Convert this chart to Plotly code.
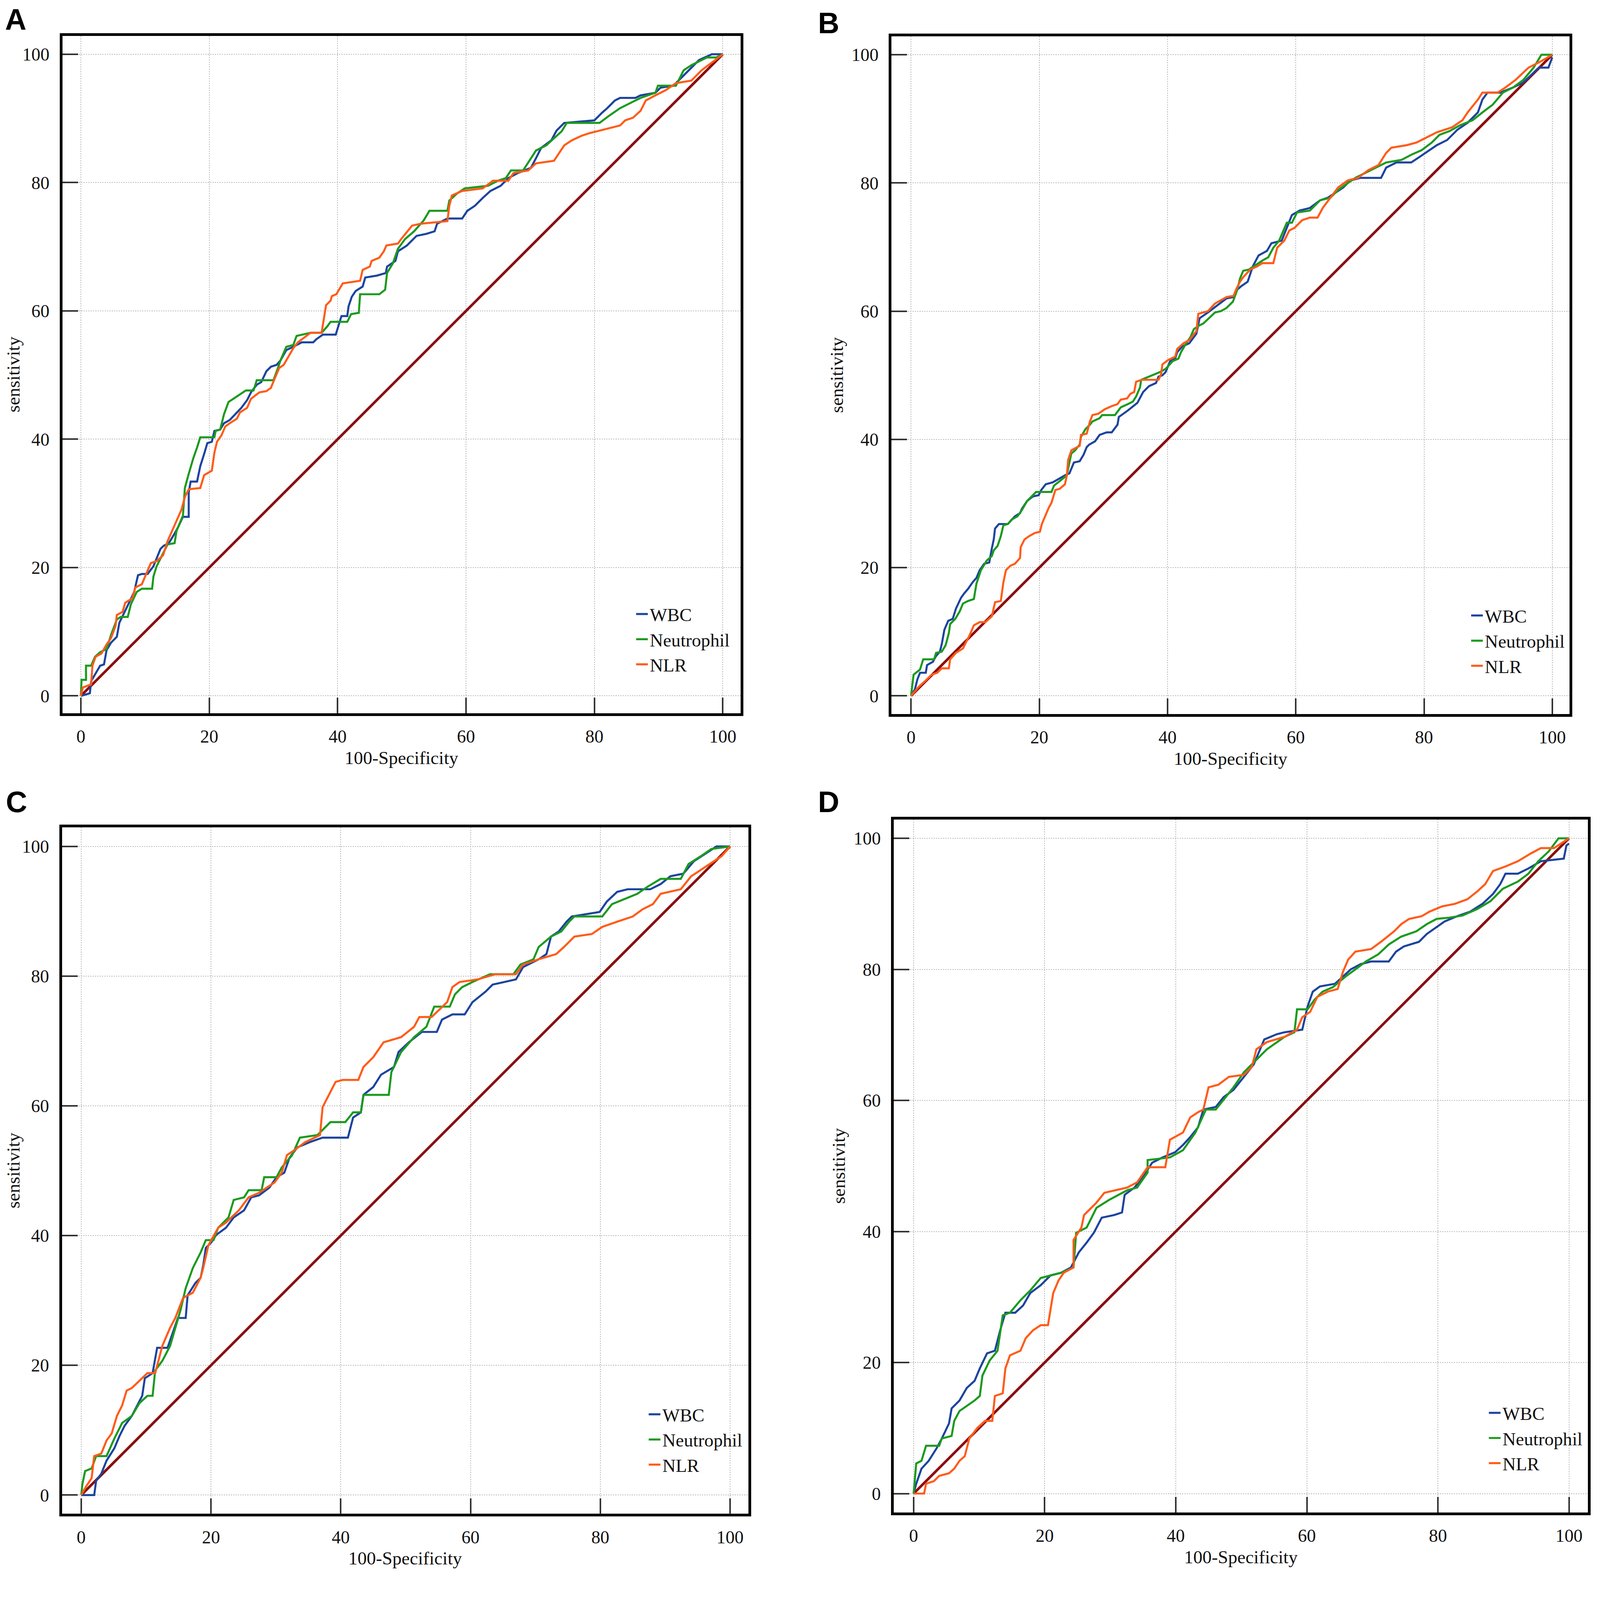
import plotly.graph_objects as go

# ROC curves: (100-specificity, sensitivity) vertices per series
a_wbc = [(0,0),(1.4,0.4),(1.6,2.3),(2.3,3.5),(3.0,4.7),(3.6,4.9),(4.0,7.1),(4.7,8.3),(5.6,9.2),(6.0,11.4),(6.7,12.8),(7.6,14.7),(8.3,16.2),(8.9,18.8),(9.5,19.0),(10.4,19.0),(11.3,20.2),(12.4,22.9),(12.9,23.4),(13.7,23.8),(14.6,25.3),(15.1,26.2),(15.9,27.9),(16.8,27.9),(16.8,31.7),(17.1,33.4),(18.1,33.4),(18.6,35.8),(19.2,37.7),(19.7,39.4),(20.4,39.6),(20.8,41.3),(21.7,41.5),(22.3,42.5),(23.2,43.0),(24.1,43.9),(25.0,44.9),(25.9,46.1),(26.5,47.3),(27.4,48.5),(28.1,48.9),(28.9,50.6),(29.6,51.3),(30.5,51.6),(31.1,52.3),(32.0,53.9),(33.1,54.4),(34.4,55.1),(36.2,55.1),(36.7,55.6),(37.7,56.3),(39.7,56.3),(40.2,57.8),(40.6,59.2),(41.5,59.2),(41.7,60.7),(42.2,62.2),(42.8,63.1),(43.9,63.8),(44.3,65.2),(46.1,65.5),(47.5,65.9),(47.7,66.9),(49.0,67.8),(49.4,69.3),(50.8,70.2),(52.3,71.7),(53.8,72.0),(55.1,72.4),(55.5,73.6),(57.1,74.4),(59.4,74.4),(60.2,75.6),(61.4,76.4),(62.6,77.6),(63.8,78.7),(65.4,79.5),(66.6,80.7),(68.1,81.5),(70.1,82.3),(70.9,83.8),(71.7,85.4),(73.3,86.6),(74.1,88.1),(75.3,89.3),(80.0,89.7),(81.2,90.9),(82.0,91.6),(83.2,92.8),(84.0,93.2),(86.4,93.2),(87.2,93.6),(89.5,94.0),(90.3,94.8),(92.3,95.1),(93.5,96.3),(94.7,97.5),(96.3,99.1),(98.3,100),(100,100)]
a_neu = [(0,0),(0.1,2.5),(0.8,2.5),(0.8,4.7),(1.6,4.7),(2.2,6.1),(3.0,6.8),(4.0,7.3),(4.7,9.5),(5.6,11.9),(6.2,12.3),(7.3,12.3),(7.8,14.3),(8.7,16.2),(9.5,16.7),(11.1,16.7),(11.3,18.6),(11.8,20.2),(12.8,22.2),(13.5,23.6),(14.6,23.8),(14.9,25.7),(15.9,28.1),(16.2,32.4),(16.8,34.6),(17.5,37.0),(18.1,38.7),(18.6,40.3),(20.8,40.3),(21.0,41.3),(21.7,41.5),(22.3,43.9),(23.0,45.8),(23.7,46.3),(24.8,47.0),(25.7,47.6),(26.9,47.6),(27.4,49.2),(30.0,49.2),(30.7,51.1),(31.1,52.3),(32.0,54.4),(33.1,54.7),(33.6,56.1),(35.8,56.6),(37.5,56.6),(38.4,57.6),(38.9,58.3),(41.5,58.3),(42.1,59.5),(43.3,59.7),(43.5,62.6),(46.5,62.6),(47.4,63.3),(47.7,65.9),(48.6,67.4),(49.4,69.7),(50.5,71.2),(51.9,72.4),(53.4,74.1),(54.3,75.6),(57.1,75.6),(57.4,77.2),(58.6,78.3),(59.8,79.1),(63.4,79.5),(65.0,80.3),(66.2,80.7),(67.0,81.9),(68.9,81.9),(70.1,83.8),(70.9,85.0),(72.5,85.8),(73.7,86.9),(74.9,88.0),(75.7,89.3),(80.8,89.3),(82.4,90.5),(84.0,91.6),(85.6,92.4),(87.2,93.2),(89.5,94.0),(89.9,95.1),(92.7,95.1),(93.9,97.5),(95.1,98.3),(97.5,99.5),(99.0,99.5),(100,100)]
a_nlr = [(0,0),(0.3,1.3),(1.6,1.8),(1.8,4.7),(2.3,6.1),(3.2,6.6),(4.0,8.0),(4.7,9.0),(5.4,10.9),(5.6,12.6),(6.5,13.1),(6.9,14.5),(8.0,15.2),(8.5,16.9),(9.5,17.4),(10.4,19.5),(10.9,20.7),(11.8,21.0),(12.8,21.9),(13.5,24.1),(14.2,25.7),(14.9,27.4),(15.7,29.1),(16.2,31.0),(16.8,32.2),(18.6,32.4),(19.2,34.4),(19.9,34.8),(20.4,35.1),(20.8,37.9),(21.2,39.6),(21.9,40.6),(22.5,42.0),(23.2,42.5),(24.3,43.2),(24.8,44.2),(25.9,44.9),(26.5,46.3),(27.8,47.3),(28.9,47.5),(29.6,48.0),(30.3,49.7),(30.9,51.1),(31.6,51.6),(32.3,52.8),(33.1,54.2),(33.8,55.1),(34.5,55.6),(35.8,56.6),(37.5,56.6),(38.0,59.9),(38.2,60.9),(38.9,61.6),(39.1,62.3),(39.8,62.6),(40.8,64.3),(43.5,64.7),(43.9,66.4),(45.0,66.9),(45.3,67.8),(46.5,68.3),(47.2,69.3),(47.6,70.2),(49.4,70.5),(49.9,71.2),(51.6,73.3),(53.0,73.6),(57.1,74.0),(57.4,76.4),(57.8,78.0),(59.4,78.7),(62.6,79.1),(64.2,80.3),(66.6,80.3),(67.4,81.5),(69.7,81.9),(70.9,83.0),(73.7,83.4),(74.5,84.6),(75.3,85.8),(76.5,86.6),(78.0,87.3),(79.2,87.7),(82.4,88.5),(84.0,88.9),(84.8,89.7),(86.0,90.1),(87.2,91.2),(88.0,92.8),(89.5,93.6),(91.1,94.4),(92.7,95.5),(95.1,95.9),(96.7,97.5),(98.3,98.7),(100,100)]

b_wbc = [(0,0),(0.6,1.0),(1.0,2.6),(1.4,3.6),(2.3,3.6),(2.5,4.8),(3.4,5.3),(3.9,6.2),(4.5,6.9),(4.8,8.1),(5.2,10.3),(5.8,11.7),(6.5,12.0),(7.0,13.6),(7.8,15.3),(8.3,16.0),(8.9,16.7),(9.6,17.7),(10.2,18.4),(10.7,19.6),(11.4,20.6),(12.2,20.8),(12.6,23.0),(12.9,24.4),(13.1,26.1),(13.7,26.8),(15.1,26.8),(15.7,27.5),(16.2,28.0),(17.0,28.5),(17.3,29.2),(18.1,30.4),(19.0,31.1),(19.9,31.3),(20.3,32.1),(21.0,33.0),(22.1,33.3),(22.8,33.7),(24.0,34.4),(24.7,34.7),(25.2,35.9),(25.4,36.4),(26.3,36.6),(26.9,37.6),(27.4,38.8),(27.8,39.2),(28.7,39.7),(29.4,40.7),(30.5,41.1),(31.3,41.1),(32.2,42.3),(32.4,43.5),(33.1,44.0),(33.8,44.5),(35.3,45.7),(35.7,46.4),(36.2,47.4),(37.1,48.3),(38.2,48.8),(38.6,49.8),(39.2,50.0),(39.7,50.5),(40.4,52.2),(41.2,52.6),(41.5,53.6),(42.3,54.5),(43.4,55.0),(44.5,56.5),(45.0,58.9),(46.3,59.8),(48.1,61.2),(49.2,62.0),(50.3,62.2),(50.7,63.2),(51.5,63.9),(52.5,64.6),(53.3,67.0),(54.2,68.7),(55.5,69.4),(56.2,70.6),(57.8,71.0),(58.6,73.0),(59.4,75.0),(60.6,75.7),(62.2,76.1),(63.8,77.3),(65.0,77.7),(66.2,78.5),(67.4,79.3),(68.5,80.4),(70.1,80.8),(73.3,80.8),(74.1,82.4),(75.7,83.2),(78.0,83.2),(79.2,84.0),(80.8,85.1),(82.0,85.9),(83.6,86.7),(85.2,88.3),(86.8,89.4),(88.4,91.0),(89.1,93.0),(89.9,94.1),(91.9,94.1),(93.9,94.9),(95.5,95.7),(96.7,96.9),(97.9,98.0),(99.4,98.0),(100,99.6)]
b_neu = [(0,0),(0.4,3.3),(1.4,4.1),(1.9,5.7),(3.6,5.7),(3.9,6.7),(4.8,6.9),(5.4,7.9),(5.9,9.8),(6.1,11.2),(6.9,12.0),(7.6,13.2),(8.1,14.4),(8.9,14.8),(9.8,15.1),(10.2,17.5),(10.5,18.4),(10.9,19.6),(11.8,21.1),(12.6,21.8),(12.9,22.7),(13.5,23.4),(14.0,24.9),(14.4,26.6),(15.1,26.8),(15.7,27.5),(16.6,28.0),(17.3,29.0),(18.1,30.4),(19.0,31.3),(19.5,31.8),(21.9,31.8),(22.3,32.8),(23.2,33.5),(24.3,34.4),(24.7,36.4),(25.0,37.8),(25.6,38.3),(26.3,39.2),(26.5,40.4),(27.2,41.6),(27.9,42.3),(28.3,42.8),(29.4,43.3),(29.8,43.8),(31.8,43.8),(32.2,44.3),(32.7,45.0),(33.8,45.5),(34.6,45.9),(35.1,46.7),(35.7,48.1),(35.9,49.3),(37.5,50.0),(38.8,50.5),(39.7,51.0),(40.3,51.7),(40.8,52.2),(41.7,52.6),(42.1,53.6),(42.8,54.8),(43.6,56.0),(44.1,57.2),(44.8,57.7),(45.6,58.1),(46.5,58.9),(47.4,59.8),(48.3,60.0),(49.2,60.5),(50.2,61.5),(50.9,63.4),(51.3,65.1),(51.8,66.3),(52.7,66.5),(53.7,67.2),(54.8,67.9),(55.7,68.4),(56.5,69.9),(57.4,71.0),(58.6,73.8),(59.4,73.8),(60.2,75.4),(62.2,75.7),(63.8,77.3),(65.4,77.7),(66.6,78.9),(67.7,79.7),(69.3,80.8),(70.9,81.6),(72.5,82.4),(74.1,83.2),(76.5,83.6),(78.0,84.4),(79.6,85.1),(81.2,86.3),(82.4,87.5),(84.0,88.1),(85.6,89.0),(87.6,89.8),(89.1,91.0),(90.7,92.2),(92.3,94.1),(93.9,94.9),(95.5,96.1),(97.1,98.0),(98.3,100),(100,100)]
b_nlr = [(0,0),(1.2,1.4),(2.3,2.4),(3.2,3.3),(4.1,3.6),(4.8,4.3),(5.9,4.3),(6.1,5.7),(7.0,6.7),(8.1,7.4),(8.7,8.6),(9.2,9.6),(9.8,11.0),(10.7,11.5),(11.6,11.5),(12.6,12.4),(13.1,14.6),(14.0,14.8),(14.4,17.7),(14.8,19.6),(15.5,20.3),(16.2,20.6),(17.0,21.5),(17.1,23.2),(17.7,24.4),(18.4,24.9),(19.3,25.4),(20.1,25.6),(20.4,26.8),(21.0,28.2),(21.5,29.4),(21.9,30.1),(22.3,31.3),(22.5,32.1),(23.2,32.3),(24.0,33.0),(24.3,34.4),(24.5,36.8),(25.0,38.3),(26.3,39.0),(26.5,40.7),(27.4,40.9),(27.9,42.8),(28.3,43.8),(29.2,44.0),(30.2,44.7),(31.3,45.2),(32.2,45.5),(32.7,46.2),(33.7,46.4),(34.2,47.1),(34.8,47.4),(35.1,49.0),(36.0,49.3),(38.6,49.3),(39.0,50.2),(39.2,51.7),(40.1,52.4),(41.2,52.9),(41.5,54.1),(42.5,55.0),(43.4,55.5),(44.5,56.9),(44.8,59.6),(46.3,60.0),(47.4,61.2),(49.2,62.2),(50.3,62.4),(50.7,63.4),(51.3,64.6),(51.8,65.3),(52.9,66.5),(54.0,67.0),(54.8,67.5),(56.5,67.5),(57.1,69.9),(58.2,71.0),(59.0,72.6),(59.8,73.0),(61.0,74.2),(62.2,74.6),(63.4,74.6),(64.2,76.1),(65.4,77.7),(66.6,79.3),(68.1,80.4),(69.7,80.8),(71.3,82.0),(72.9,82.8),(74.1,84.7),(74.9,85.5),(77.3,85.9),(78.8,86.3),(80.4,87.1),(82.0,87.9),(84.4,88.7),(86.0,89.8),(86.8,91.0),(88.4,93.0),(89.1,94.1),(91.5,94.1),(92.7,94.9),(94.3,96.1),(96.3,98.0),(97.9,98.8),(100,100)]

c_wbc = [(0,0),(2.0,0),(2.3,2.2),(3.1,3.3),(3.9,5.3),(5.1,7.2),(5.9,9.1),(6.7,10.7),(7.8,12.2),(8.6,13.8),(9.4,15.3),(9.8,18.0),(11.0,18.8),(11.7,22.7),(13.3,22.7),(14.1,25.0),(14.9,27.3),(16.1,27.3),(16.4,30.8),(17.6,32.7),(18.4,33.5),(18.8,35.4),(19.2,38.1),(20.0,38.9),(20.8,40.1),(22.3,41.2),(23.5,42.8),(25.1,43.9),(26.2,45.9),(27.4,46.2),(29.0,47.4),(30.1,49.0),(31.3,49.7),(32.1,52.0),(33.3,53.6),(35.2,54.4),(37.2,55.1),(41.1,55.1),(41.9,58.2),(43.1,59.0),(43.5,61.7),(45.0,62.9),(46.2,64.8),(48.2,66.0),(48.9,68.3),(50.5,69.8),(52.5,71.4),(54.8,71.4),(55.6,73.3),(57.2,74.1),(59.1,74.1),(60.3,76.0),(62.3,77.6),(63.4,78.7),(67.0,79.5),(68.1,81.4),(70.5,82.6),(71.7,83.4),(72.4,86.1),(73.6,86.9),(74.8,88.4),(75.6,89.2),(79.9,89.9),(81.0,91.5),(82.6,93.0),(84.2,93.4),(87.7,93.4),(89.3,94.2),(90.8,95.4),(92.8,95.8),(94.4,97.7),(96.7,99.2),(97.9,100),(100,100)]
c_neu = [(0,0),(0.2,1.8),(0.6,3.7),(1.6,4.1),(2.3,6.0),(3.9,6.0),(5.1,8.7),(6.3,11.1),(7.8,12.2),(9.0,14.2),(10.2,15.3),(11.0,15.3),(11.4,19.2),(12.5,20.7),(13.7,23.0),(14.5,25.8),(15.3,28.5),(16.1,31.9),(17.2,35.0),(18.4,37.4),(19.2,39.3),(20.4,39.3),(21.1,41.2),(22.7,42.8),(23.5,45.5),(25.1,45.9),(25.8,47.0),(27.8,47.0),(28.2,49.0),(30.1,49.0),(30.9,50.5),(32.5,52.4),(33.7,55.1),(36.4,55.5),(38.4,57.5),(40.7,57.5),(41.9,59.0),(43.1,59.0),(43.5,61.7),(47.4,61.7),(47.8,65.2),(49.3,68.3),(51.3,70.6),(53.2,72.2),(54.4,75.3),(56.8,75.3),(57.6,77.2),(58.7,78.3),(60.3,79.1),(63.0,80.3),(66.6,80.3),(67.7,81.8),(69.7,82.6),(70.5,84.5),(72.4,86.1),(74.0,86.9),(75.2,88.4),(76.0,89.2),(80.3,89.2),(81.8,91.1),(83.8,91.9),(85.7,92.7),(87.3,93.8),(89.3,95.0),(92.4,95.0),(93.6,97.3),(95.5,98.5),(97.1,99.6),(100,100)]
c_nlr = [(0,0),(0.8,1.4),(1.6,2.6),(2.0,6.0),(3.1,6.4),(3.9,8.4),(4.7,9.5),(5.5,12.2),(6.3,13.8),(7.0,16.1),(7.8,16.5),(9.0,17.6),(10.2,18.8),(11.4,18.8),(12.5,23.0),(13.7,25.8),(14.5,27.3),(15.7,30.4),(17.2,31.2),(18.4,33.5),(18.8,35.0),(19.6,38.5),(21.1,41.2),(22.3,42.0),(24.3,43.9),(25.8,45.9),(27.4,46.6),(29.8,48.2),(30.9,49.7),(31.7,52.4),(32.9,53.2),(34.5,54.4),(36.8,55.5),(37.2,59.8),(38.0,61.3),(39.2,63.7),(40.3,64.0),(42.7,64.0),(43.5,66.0),(45.0,67.5),(46.6,69.8),(49.3,70.6),(51.3,72.2),(52.1,73.7),(54.0,73.7),(55.2,74.9),(56.4,76.0),(57.2,78.3),(58.3,79.1),(61.1,79.5),(63.8,80.3),(67.0,80.3),(68.1,81.8),(70.5,82.6),(73.2,83.4),(74.4,84.5),(76.0,86.1),(78.7,86.5),(80.3,87.6),(82.6,88.4),(85.0,89.2),(86.5,90.3),(88.1,91.1),(89.3,92.7),(92.4,93.4),(94.0,95.4),(96.3,96.9),(98.7,98.5),(100,100)]

d_wbc = [(0,0),(0.4,1.5),(1.2,3.8),(2.3,5.0),(3.5,6.9),(4.3,8.4),(5.4,10.7),(5.8,13.0),(7.0,14.2),(8.1,16.1),(9.3,17.2),(10.1,19.1),(11.2,21.4),(12.4,21.8),(13.2,24.9),(14.0,27.6),(15.5,27.6),(16.7,28.7),(17.8,30.6),(19.4,31.8),(20.9,33.3),(22.5,33.7),(24.0,34.5),(25.2,36.8),(26.4,38.3),(27.5,39.8),(28.7,42.1),(30.6,42.5),(31.8,42.9),(32.2,45.6),(33.7,46.7),(34.9,48.2),(36.4,50.5),(38.0,51.3),(39.9,52.1),(41.1,53.2),(42.2,54.4),(43.4,55.9),(44.2,58.6),(46.1,59.0),(47.3,60.5),(48.8,61.6),(50.4,63.6),(51.9,65.5),(53.5,69.3),(55.4,70.1),(56.6,70.4),(59.3,70.8),(60.1,74.3),(60.9,76.6),(62.0,77.4),(64.3,77.8),(65.5,78.9),(66.7,80.0),(68.2,80.8),(69.8,81.2),(72.5,81.2),(73.6,82.7),(74.8,83.5),(77.1,84.2),(78.3,85.4),(79.8,86.5),(81.0,87.3),(82.9,88.1),(84.9,88.8),(86.8,90.0),(88.4,91.5),(89.5,93.0),(90.3,94.6),(92.2,94.6),(93.8,95.4),(95.7,96.5),(99.2,96.9),(99.6,98.9),(100,99.2)]
d_neu = [(0,0),(0.4,4.6),(1.2,5.0),(1.9,7.3),(3.9,7.3),(4.3,8.4),(5.8,8.8),(6.2,11.1),(7.0,12.6),(8.1,13.4),(9.3,14.2),(10.1,14.9),(10.5,18.0),(11.6,20.3),(12.8,21.8),(13.6,27.2),(14.7,27.6),(16.3,29.5),(17.8,31.0),(19.4,32.9),(22.5,33.7),(24.4,34.5),(24.8,39.8),(26.4,40.6),(27.9,43.6),(29.8,44.8),(32.6,46.3),(34.1,46.7),(35.7,49.0),(35.7,50.9),(39.1,51.3),(41.1,52.4),(43.0,55.1),(44.6,58.6),(46.1,58.6),(47.3,60.1),(48.8,62.0),(50.4,64.3),(52.3,66.2),(53.9,67.8),(56.6,69.7),(58.1,70.4),(58.5,73.9),(60.1,73.9),(61.2,75.4),(62.4,76.6),(64.0,77.3),(65.9,78.9),(67.4,80.0),(69.0,81.2),(70.9,82.3),(72.5,83.8),(74.4,85.0),(76.7,85.8),(78.3,86.9),(79.8,87.7),(81.8,87.9),(83.7,88.2),(86.0,89.2),(88.0,90.4),(89.9,92.3),(92.2,93.4),(93.8,94.6),(95.3,96.5),(96.9,98.0),(98.4,100),(100,100)]
d_nlr = [(0,0),(1.6,0),(1.9,1.5),(3.1,1.9),(3.9,2.7),(5.4,3.1),(6.2,3.8),(7.0,5.0),(7.8,5.7),(8.5,8.4),(9.7,10.0),(10.9,11.1),(12.0,11.1),(12.4,14.9),(13.6,15.3),(14.0,19.1),(14.7,21.1),(16.3,21.8),(17.1,23.7),(18.2,24.9),(19.4,25.7),(20.5,25.7),(21.3,30.6),(22.1,32.5),(22.9,33.7),(24.4,34.5),(24.4,38.7),(25.6,40.6),(26.0,42.5),(27.9,44.4),(29.1,45.9),(32.6,46.7),(34.1,47.5),(35.7,49.8),(38.4,49.8),(39.1,54.0),(41.1,55.1),(42.2,57.4),(43.4,58.2),(44.2,58.6),(45.0,62.0),(46.5,62.4),(48.1,63.6),(50.4,63.9),(51.6,65.1),(52.3,67.8),(53.9,68.9),(56.6,69.7),(58.5,70.8),(59.3,72.7),(60.5,73.5),(61.6,75.8),(63.2,76.6),(64.7,77.0),(65.5,79.6),(66.3,81.5),(67.4,82.7),(69.8,83.1),(71.3,84.2),(73.3,85.8),(74.4,86.9),(75.6,87.7),(77.5,88.1),(78.7,88.8),(80.6,89.6),(82.6,90.0),(84.5,90.7),(86.0,91.9),(87.2,93.0),(88.4,95.0),(90.3,95.7),(92.2,96.5),(94.2,97.7),(95.7,98.5),(97.7,98.5),(98.8,99.2),(100,100)]

series_names = ["WBC", "Neutrophil", "NLR"]
diagonal = [(0, 0), (100, 100)]
panel_letters = ["A", "B", "C", "D"]
tick_values = [0, 20, 40, 60, 80, 100]

panels = [
    [a_wbc, a_neu, a_nlr],
    [b_wbc, b_neu, b_nlr],
    [c_wbc, c_neu, c_nlr],
    [d_wbc, d_neu, d_nlr],
]

# the page viewport came out ~4080x4027 css px, body keeps its 8px margin
K = 0.945
M = 8
FW = 4080 - 2 * M
FH = 4027 - 2 * M


def fx(p):
    return (p * K - M) / FW


def fy(p):
    return 1 - (p * K - M) / FH


def s(v):
    return round(v * K, 1)


def si(v):
    return int(round(v * K))


colors = ["#1d449e", "#1c9a1f", "#ff5c1a"]
diag_color = "#8b0f0f"
serif = "Liberation Serif"

# plot frames in reference pixels: left, right, top, bottom
frames = [
    (169, 2006, 97, 1932),
    (2415, 4252, 98, 1934),
    (168, 2027, 2241, 4101),
    (2421, 4302, 2220, 4097),
]
xranges = [[-2.88, 102.76], [-3.05, 102.7], [-2.96, 102.8], [-3.04, 102.9]]
yranges = [[-2.70, 102.88], [-2.82, 102.9], [-2.90, 102.96], [-2.87, 102.87]]
# legend text start x and middle row y, reference pixels
legend_pos = [(1762, 1732), (4024, 1736), (1796, 3900), (4072, 3896)]
# panel letter top-left, reference pixels
letter_pos = [(12, 6), (2214, 16), (14, 2126), (2214, 2126)]

fig = go.Figure()

for i, curves in enumerate(panels):
    n = "" if i == 0 else str(i + 1)
    xa, ya = "x" + n, "y" + n
    leg = "legend" + n
    fig.add_trace(go.Scatter(
        x=[p[0] for p in diagonal], y=[p[1] for p in diagonal],
        mode="lines", line=dict(color=diag_color, width=s(7)),
        showlegend=False, hoverinfo="skip", xaxis=xa, yaxis=ya,
    ))
    for name, pts, col in zip(series_names, curves, colors):
        fig.add_trace(go.Scatter(
            x=[p[0] for p in pts], y=[p[1] for p in pts],
            mode="lines", name=name, line=dict(color=col, width=s(5.5)),
            xaxis=xa, yaxis=ya, legend=leg,
        ))

    l, r, t, b = frames[i]
    axis_common = dict(
        tickmode="array", tickvals=tick_values,
        ticks="inside", ticklen=si(42), tickwidth=s(4), tickcolor="#333333",
        showline=True, linewidth=s(7), linecolor="black", mirror=True,
        showgrid=True, gridcolor="#b8b8b8", gridwidth=s(2.5), griddash="dot",
        zeroline=False, tickfont=dict(family=serif, size=s(49), color="#111111"),
        fixedrange=True,
    )
    fig.layout["xaxis" + n] = dict(
        axis_common, domain=[fx(l), fx(r)], range=xranges[i], anchor=ya,
        ticklabelstandoff=si(14),
        title=dict(text="100-Specificity", font=dict(family=serif, size=s(50), color="#111111"), standoff=si(16)),
    )
    fig.layout["yaxis" + n] = dict(
        axis_common, domain=[fy(b), fy(t)], range=yranges[i], anchor=xa,
        ticklabelstandoff=si(18),
        title=dict(text="sensitivity", font=dict(family=serif, size=s(50), color="#111111"), standoff=si(10)),
    )

    lx, ly = legend_pos[i]
    fig.layout[leg] = dict(
        x=fx(lx - 44), y=fy(ly), xanchor="left", yanchor="middle",
        xref="paper", yref="paper",
        bgcolor="rgba(0,0,0,0)", borderwidth=0,
        font=dict(family=serif, size=s(50), color="#111111"),
        tracegroupgap=0,
    )

    px, py = letter_pos[i]
    fig.add_annotation(
        text="<b>" + panel_letters[i] + "</b>", x=fx(px), y=fy(py),
        xref="paper", yref="paper", xanchor="left", yanchor="top",
        showarrow=False, font=dict(family="Liberation Sans", size=s(80), color="black"),
    )

fig.update_layout(
    width=FW, height=FH,
    margin=dict(l=0, r=0, t=0, b=0),
    paper_bgcolor="white", plot_bgcolor="white",
)

fig.write_html("out.html")
